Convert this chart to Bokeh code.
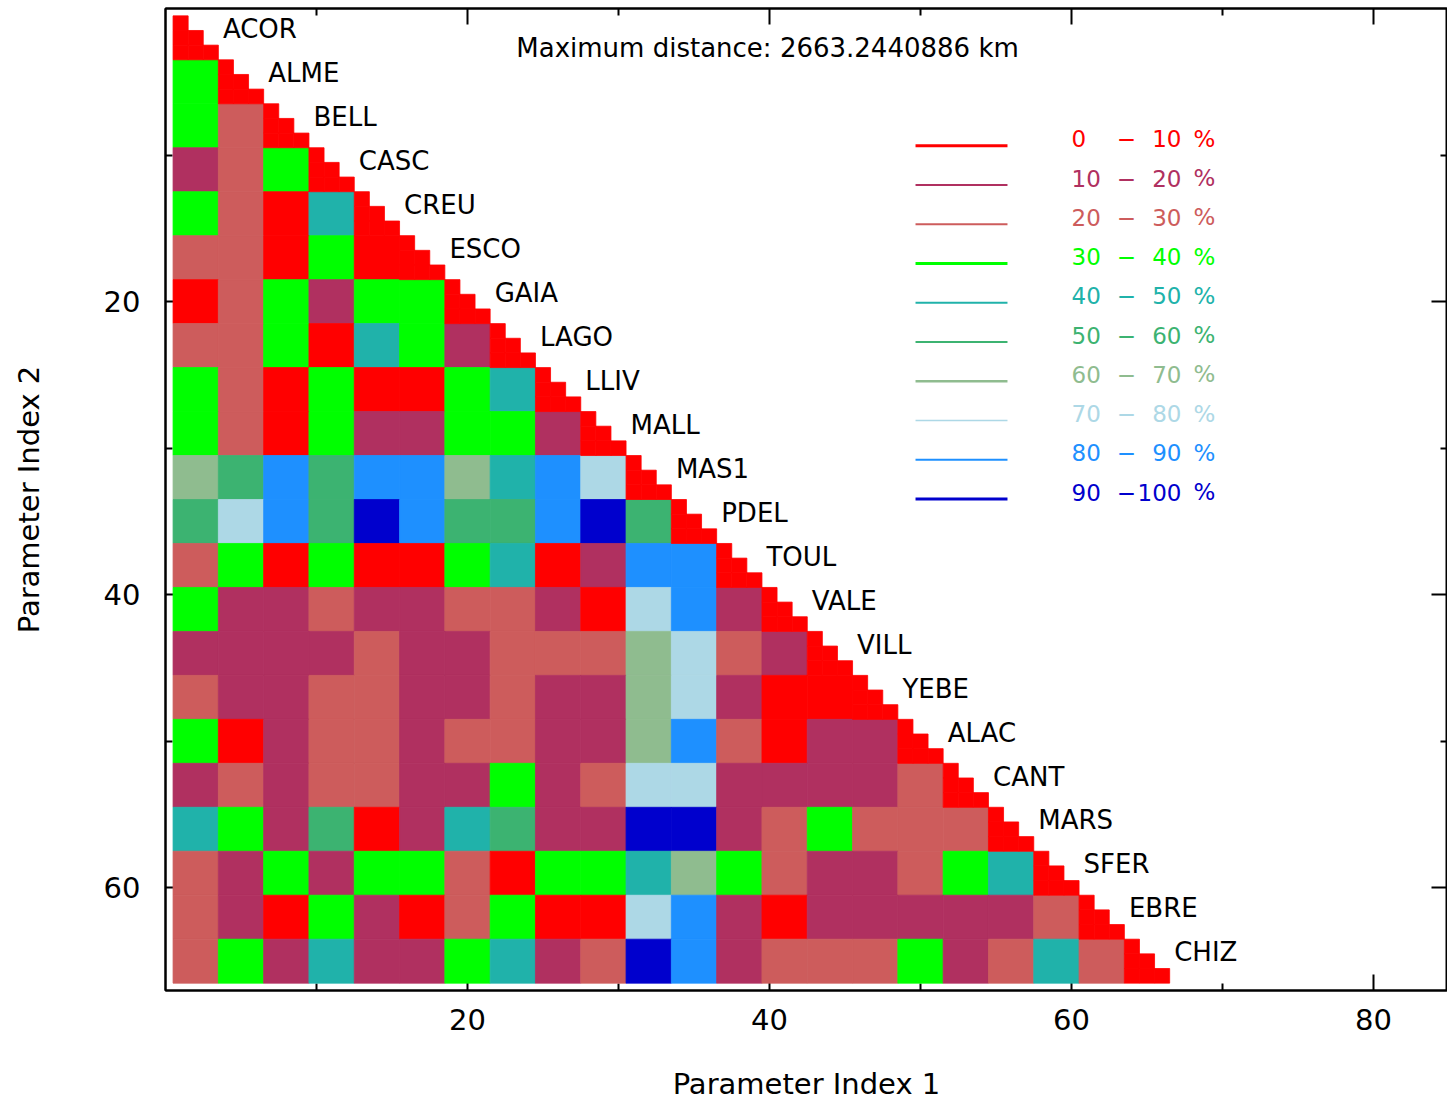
from bokeh.plotting import figure
from bokeh.models import Range1d, FixedTicker, LinearAxis, Label
from bokeh.core.properties import value
from bokeh.embed import file_html
from bokeh.resources import INLINE

# ---------------- data ----------------
stations = ["ACOR", "ALME", "BELL", "CASC", "CREU", "ESCO", "GAIA", "LAGO", "LLIV", "MALL",
            "MAS1", "PDEL", "TOUL", "VALE", "VILL", "YEBE", "ALAC", "CANT", "MARS", "SFER",
            "EBRE", "CHIZ"]
params_per_station = 3

class_colors = ["#FF0000", "#B03060", "#CD5C5C", "#00FF00", "#20B2AA",
                "#3CB371", "#8FBC8F", "#ADD8E6", "#1E90FF", "#0000CD"]
class_lo = ["0", "10", "20", "30", "40", "50", "60", "70", "80", "90"]
class_hi = ["10", "20", "30", "40", "50", "60", "70", "80", "90", "100"]
legend_widths = [3, 2, 2, 3, 2, 2, 2.5, 1.5, 2, 3]

# correlation class (0..9) of each station pair, rows = station 2, cols = station 1 (< row)
pair_class_rows = [
    [],
    [3],
    [3, 2],
    [1, 2, 3],
    [3, 2, 0, 4],
    [2, 2, 0, 3, 0],
    [0, 2, 3, 1, 3, 3],
    [2, 2, 3, 0, 4, 3, 1],
    [3, 2, 0, 3, 0, 0, 3, 4],
    [3, 2, 0, 3, 1, 1, 3, 3, 1],
    [6, 5, 8, 5, 8, 8, 6, 4, 8, 7],
    [5, 7, 8, 5, 9, 8, 5, 5, 8, 9, 5],
    [2, 3, 0, 3, 0, 0, 3, 4, 0, 1, 8, 8],
    [3, 1, 1, 2, 1, 1, 2, 2, 1, 0, 7, 8, 1],
    [1, 1, 1, 1, 2, 1, 1, 2, 2, 2, 6, 7, 2, 1],
    [2, 1, 1, 2, 2, 1, 1, 2, 1, 1, 6, 7, 1, 0, 0],
    [3, 0, 1, 2, 2, 1, 2, 2, 1, 1, 6, 8, 2, 0, 1, 1],
    [1, 2, 1, 2, 2, 1, 1, 3, 1, 2, 7, 7, 1, 1, 1, 1, 2],
    [4, 3, 1, 5, 0, 1, 4, 5, 1, 1, 9, 9, 1, 2, 3, 2, 2, 2],
    [2, 1, 3, 1, 3, 3, 2, 0, 3, 3, 4, 6, 3, 2, 1, 1, 2, 3, 4],
    [2, 1, 0, 3, 1, 0, 2, 3, 0, 0, 7, 8, 1, 0, 1, 1, 1, 1, 1, 2],
    [2, 3, 1, 4, 1, 1, 3, 4, 1, 2, 9, 8, 1, 2, 2, 2, 3, 1, 2, 4, 2],
]
self_class = 0  # a station with itself
title_text = "Maximum distance: 2663.2440886 km"
x_ticks = [20, 40, 60, 80]
x_minor = [10, 30, 50, 70]
y_ticks = [20, 40, 60]
y_minor = [10, 30, 50]

# ---------------- figure ----------------
FONT = value("DejaVu Sans")
p = figure(width=1447, height=1103, output_backend="svg", toolbar_location=None,
           x_range=Range1d(0, 84.9), y_range=Range1d(67.0, 0),
           min_border_left=165, min_border_right=0, min_border_top=8, min_border_bottom=112,
           x_axis_location=None, y_axis_location=None)
p.grid.visible = False
p.outline_line_color = "black"
p.outline_line_width = 2
p.background_fill_color = "white"
p.border_fill_color = "white"

# blocks between different stations
n = params_per_station
L, R, T, B, C = [], [], [], [], []
for r, row in enumerate(pair_class_rows):
    for c, cls in enumerate(row):
        L.append(n * c + 0.5); R.append(n * c + n + 0.5)
        T.append(n * r + 0.5); B.append(n * r + n + 0.5)
        C.append(class_colors[cls])
q1 = p.quad(left=L, right=R, top=T, bottom=B, fill_color=C, line_color=C, line_width=0.8)
q1.level = "overlay"

# diagonal (each station with itself): lower triangle, parameter by parameter
L, R, T, B, C = [], [], [], [], []
for k in range(len(stations)):
    for a in range(n):
        for b in range(a, n):
            i = n * k + a + 1
            j = n * k + b + 1
            L.append(i - 0.5); R.append(i + 0.5)
            T.append(j - 0.5); B.append(j + 0.5)
            C.append(class_colors[self_class])
q2 = p.quad(left=L, right=R, top=T, bottom=B, fill_color=C, line_color=C, line_width=0.8)
q2.level = "overlay"

# station labels
sx = [n * k + n + 0.8 for k in range(len(stations))]
sy = [n * k + 1.4 for k in range(len(stations))]
p.text(x=sx, y=sy, text=stations, text_font=FONT, text_font_size="26px",
       text_align="left", text_baseline="middle", text_color="black")

# title inside the plot
p.add_layout(Label(x=39.87, y=2.7, text=title_text, text_font="DejaVu Sans",
                   text_font_size="26px", text_align="center", text_baseline="middle",
                   text_color="black"))

# legend (custom)
lx0, lx1 = 49.67, 55.76
ly0, ldy = 9.37, 2.678
ly = [ly0 + ldy * i for i in range(len(class_colors))]
for i, col in enumerate(class_colors):
    p.line(x=[lx0, lx1], y=[ly[i], ly[i]], line_color=col, line_width=legend_widths[i])
ty = [v - 0.48 for v in ly]
p.text(x=[60.0] * 10, y=ty, text=class_lo, text_color=class_colors, text_font=FONT,
       text_font_size="23px", text_align="left", text_baseline="middle")
p.text(x=[63.64] * 10, y=ty, text=["\u2212"] * 10, text_color=class_colors, text_font=FONT,
       text_font_size="23px", text_align="center", text_baseline="middle")
p.text(x=[67.28] * 10, y=ty, text=class_hi, text_color=class_colors, text_font=FONT,
       text_font_size="23px", text_align="right", text_baseline="middle")
p.text(x=[68.08] * 10, y=ty, text=["%"] * 10, text_color=class_colors, text_font=FONT,
       text_font_size="23px", text_align="left", text_baseline="middle")

# axes
def style(ax):
    ax.axis_line_color = "black"
    ax.axis_line_width = 2
    ax.major_tick_in = 16
    ax.major_tick_out = 0
    ax.minor_tick_in = 7
    ax.minor_tick_out = 0
    ax.major_tick_line_width = 2
    ax.minor_tick_line_width = 2
    ax.major_label_text_font = "DejaVu Sans"
    ax.major_label_text_color = "black"
    ax.axis_label_text_font = "DejaVu Sans"
    ax.axis_label_text_font_style = "normal"
    ax.axis_label_text_color = "black"

def no_labels(ax):
    ax.major_label_text_font_size = "0px"
    ax.major_label_standoff = 0
    ax.major_label_overrides = {t: "" for t in ax.ticker.ticks}

xb = LinearAxis(ticker=FixedTicker(ticks=x_ticks, minor_ticks=x_minor),
                axis_label="Parameter Index 1")
style(xb)
xb.major_label_text_font_size = "29px"
xb.major_label_standoff = 18
xb.axis_label_text_font_size = "29px"
xb.axis_label_standoff = 34
p.add_layout(xb, "below")

yl = LinearAxis(ticker=FixedTicker(ticks=y_ticks, minor_ticks=y_minor),
                axis_label="Parameter Index 2")
style(yl)
yl.major_label_text_font_size = "29px"
yl.major_label_standoff = 25
yl.axis_label_text_font_size = "29px"
yl.axis_label_standoff = 55
p.add_layout(yl, "left")

xt = LinearAxis(ticker=FixedTicker(ticks=x_ticks, minor_ticks=x_minor))
style(xt)
no_labels(xt)
p.add_layout(xt, "above")

yr = LinearAxis(ticker=FixedTicker(ticks=y_ticks, minor_ticks=y_minor))
style(yr)
no_labels(yr)
p.add_layout(yr, "right")

open("out.html", "w").write(file_html(p, INLINE))
